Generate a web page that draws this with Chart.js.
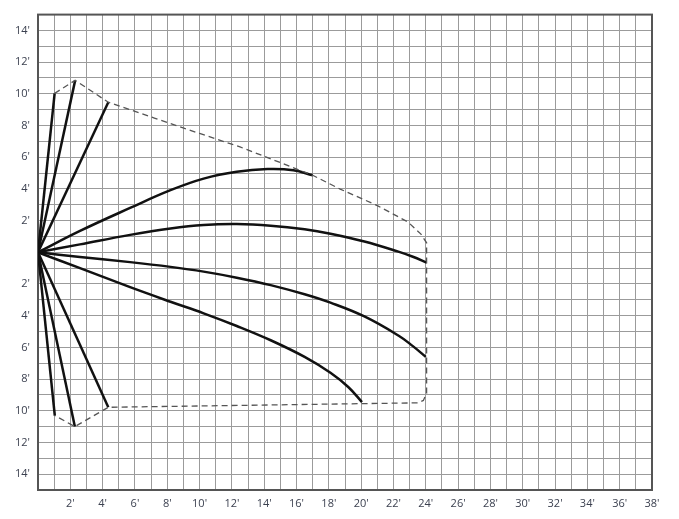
<!DOCTYPE html>
<html>
<head>
<meta charset="utf-8">
<script src="https://cdn.jsdelivr.net/npm/chart.js@4.4.1/dist/chart.umd.min.js"></script>
<style>
  html, body { margin: 0; padding: 0; background: #fff; }
  #wrap { width: 679px; height: 519px; }
</style>
</head>
<body>
<div id="wrap"><canvas id="reach" width="679" height="519"></canvas></div>
<script>
// tick labels, in feet
const xLabelFeet = [2, 4, 6, 8, 10, 12, 14, 16, 18, 20, 22, 24, 26, 28, 30, 32, 34, 36, 38];
const yLabelFeet = [14, 12, 10, 8, 6, 4, 2, -2, -4, -6, -8, -10, -12, -14];

// straight boom positions (end points, from the pivot at 0,0)
const rayX = [1.03, 2.3, 4.35, 1.04, 2.28, 4.35];
const rayY = [10.03, 10.85, 9.47, -10.3, -11.0, -9.78];

// curved reach lines
const arc1X = [0, 2.6, 5.7, 8.2, 10.25, 12.3, 14.2, 15.8, 17.0];
const arc1Y = [0, 1.35, 2.8, 3.92, 4.65, 5.08, 5.25, 5.18, 4.86];

const arc2X = [0, 2.6, 5.7, 8.2, 10.25, 12.3, 14.4, 16.5, 18.1, 20.2, 22.3, 23.2, 24.05];
const arc2Y = [0, 0.5, 1.1, 1.5, 1.72, 1.78, 1.68, 1.45, 1.17, 0.68, 0.04, -0.28, -0.65];

const arc3X = [0, 2.6, 5.7, 8.2, 10.25, 12.3, 14.4, 16.5, 18.1, 20.2, 22.3, 23.2, 24.0];
const arc3Y = [0, -0.3, -0.62, -0.92, -1.22, -1.6, -2.07, -2.65, -3.18, -4.05, -5.25, -5.92, -6.6];

const arc4X = [0, 2.6, 5.7, 8.2, 10.25, 12.3, 14.4, 16.5, 18.1, 19.2, 20.05];
const arc4Y = [0, -1.0, -2.2, -3.12, -3.85, -4.65, -5.55, -6.6, -7.6, -8.5, -9.45];

// dashed working envelope
const envX = [1.03, 2.3, 4.35, 7.2, 10.0, 12.5, 14.6, 17.0, 18.7, 21.0, 22.9, 23.7, 24.05, 24.05, 23.85, 23.5, 4.35, 2.28, 1.04];
const envY = [10.03, 10.85, 9.47, 8.47, 7.5, 6.65, 5.82, 4.86, 3.99, 2.95, 1.91, 1.15, 0.6, -8.9, -9.35, -9.5, -9.78, -11.0, -10.3];

const pts = (xs, ys) => xs.map((x, i) => ({ x: x, y: ys[i] }));

const solid = {
  showLine: true,
  borderColor: '#111',
  borderWidth: 2.5,
  pointRadius: 0,
  fill: false
};

const datasets = [{
  data: pts(envX, envY),
  showLine: true,
  borderColor: '#555',
  borderWidth: 1.3,
  borderDash: [6, 4],
  pointRadius: 0,
  tension: 0,
  fill: false
}];

rayX.forEach((x, i) => {
  datasets.push(Object.assign({}, solid, { data: pts([0, x], [0, rayY[i]]), tension: 0 }));
});

[[arc1X, arc1Y], [arc2X, arc2Y], [arc3X, arc3Y], [arc4X, arc4Y]].forEach(([xs, ys]) => {
  datasets.push(Object.assign({}, solid, { data: pts(xs, ys), tension: 0.4 }));
});

// heavy frame around the grid
const frame = {
  id: 'frame',
  beforeDatasetsDraw(chart) {
    const { ctx, chartArea: a } = chart;
    ctx.save();
    ctx.strokeStyle = '#555';
    ctx.lineWidth = 2;
    ctx.strokeRect(a.left, a.top, a.right - a.left, a.bottom - a.top);
    ctx.restore();
  }
};

const tickFont = { family: '"Open Sans", sans-serif', size: 11 };

new Chart(document.getElementById('reach').getContext('2d'), {
  type: 'scatter',
  data: { datasets: datasets },
  options: {
    responsive: false,
    animation: false,
    layout: { padding: { top: 7, right: 27, left: 0, bottom: 0 } },
    plugins: { legend: { display: false }, tooltip: { enabled: false } },
    scales: {
      x: {
        type: 'linear',
        min: 0,
        max: 38,
        afterFit: s => { s.height = 29; },
        border: { display: false },
        grid: { color: '#9b9b9b', lineWidth: 1, drawTicks: false },
        ticks: {
          stepSize: 1,
          autoSkip: false,
          maxRotation: 0,
          padding: 7,
          color: '#3c4150',
          font: tickFont,
          callback: v => xLabelFeet.includes(v) ? v + "'" : ''
        }
      },
      y: {
        type: 'linear',
        min: -15,
        max: 15,
        afterFit: s => { s.width = 38; },
        border: { display: false },
        grid: { color: '#9b9b9b', lineWidth: 1, drawTicks: false },
        ticks: {
          stepSize: 1,
          autoSkip: false,
          padding: 8,
          color: '#3c4150',
          font: tickFont,
          callback: v => yLabelFeet.includes(v) ? Math.abs(v) + "'" : ''
        }
      }
    }
  },
  plugins: [frame]
});
</script>
</body>
</html>
